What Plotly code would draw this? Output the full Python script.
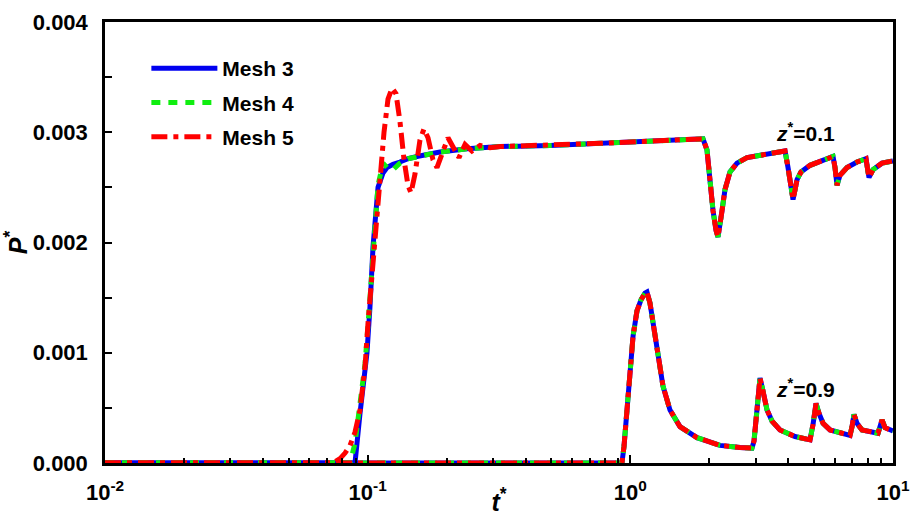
import plotly.graph_objects as go

# ---- z* = 0.1 : start-up transient, one array pair per mesh ----
t_rise_m3 = [0.01, 0.0895, 0.0935, 0.0960, 0.0994, 0.1020, 0.1048, 0.1095, 0.1144,
             0.1185, 0.1249, 0.1327, 0.1423, 0.1541, 0.1697, 0.1885, 0.2389]
p_rise_m3 = [0.0, 0.0, 0.00045, 0.00069, 0.00100, 0.00141, 0.00196, 0.00250, 0.00263,
             0.00268, 0.00271, 0.00273, 0.00276, 0.00278, 0.00280, 0.00282, 0.00285]

t_rise_m4 = [0.01, 0.0857, 0.0895, 0.0935, 0.0977, 0.1003, 0.1038, 0.1066, 0.1095,
             0.1144, 0.1185, 0.1249, 0.1327, 0.1423, 0.1541, 0.1697, 0.1885, 0.2389]
p_rise_m4 = [0.0, 0.0, 0.00018, 0.00052, 0.00090, 0.00125, 0.00170, 0.00210, 0.00252,
             0.00272, 0.00268, 0.00266, 0.00272, 0.00276, 0.00278, 0.00280, 0.00282, 0.00285]

t_rise_m5 = [0.01, 0.0738, 0.0785, 0.0820, 0.0857, 0.0895, 0.0935, 0.0977, 0.1003,
             0.1038, 0.1066, 0.1114, 0.1154, 0.1195, 0.1238, 0.1282, 0.1327, 0.1374,
             0.1423, 0.1462, 0.1514, 0.1582, 0.1638, 0.1697, 0.1773, 0.1836, 0.1919,
             0.2022, 0.2132, 0.2227, 0.2348, 0.2495, 0.2678, 0.2924]
p_rise_m5 = [0.0, 0.0, 0.00004, 0.00009, 0.00016, 0.00028, 0.00048, 0.00087, 0.00127,
             0.00170, 0.00196, 0.00260, 0.00300, 0.00330, 0.00340, 0.00335, 0.00310, 0.00276,
             0.00252, 0.00245, 0.00262, 0.00293, 0.00303, 0.00295, 0.00275, 0.00268, 0.00282,
             0.00295, 0.00285, 0.00277, 0.00289, 0.00283, 0.00288, 0.00286]

# ---- z* = 0.1 : plateau and periodic dips (common to all meshes) ----
t_plateau = [0.3191, 0.4944, 0.7664, 1.188, 1.600, 1.891, 1.958, 2.011, 2.064, 2.120,
             2.157, 2.234, 2.293, 2.396, 2.547, 2.781, 3.201, 3.780, 3.881, 3.984,
             4.091, 4.163, 4.312, 4.465, 4.832, 5.608, 5.910, 6.015, 6.120, 6.284,
             6.684, 7.295, 7.894, 8.033, 8.104, 8.390, 9.081, 10.0]
p_plateau = [0.00287, 0.00288, 0.00290, 0.00292, 0.00293, 0.00294, 0.00284, 0.00254, 0.00229, 0.00211,
             0.00205, 0.00229, 0.00248, 0.00264, 0.00272, 0.00277, 0.00280, 0.00283, 0.00283, 0.00268,
             0.00254, 0.00239, 0.00257, 0.00264, 0.00270, 0.00276, 0.00278, 0.00268, 0.00252, 0.00261,
             0.00268, 0.00273, 0.00276, 0.00264, 0.00259, 0.00266, 0.00272, 0.00274]

# ---- z* = 0.9 (all meshes coincide) ----
t_z09 = [0.01, 0.929, 0.946, 0.970, 0.997, 1.024, 1.060, 1.098, 1.137, 1.157, 1.188,
         1.231, 1.274, 1.331, 1.416, 1.545, 1.794, 2.195, 2.615, 2.904, 2.957, 3.036,
         3.117, 3.201, 3.315, 3.463, 3.713, 4.236, 4.832, 4.961, 5.093, 5.229, 5.416,
         5.757, 6.862, 6.984, 7.105, 7.295, 7.621, 8.771, 8.926, 9.081, 9.324, 10.0]
p_z09 = [0.0, 0.0, 0.00015, 0.00048, 0.00080, 0.00115, 0.00138, 0.00148, 0.00154, 0.00155, 0.00145,
         0.00122, 0.00095, 0.00070, 0.00048, 0.00033, 0.00023, 0.00016, 0.00014, 0.000135, 0.00020, 0.00050,
         0.00077, 0.00065, 0.00048, 0.00038, 0.00030, 0.00024, 0.00021, 0.00035, 0.00054, 0.00045, 0.00036,
         0.00030, 0.00025, 0.00033, 0.00044, 0.00036, 0.00030, 0.00027, 0.00032, 0.00039, 0.00032, 0.00029]

meshes = ["Mesh 3", "Mesh 4", "Mesh 5"]
colors = ["#0000f0", "#10ee10", "#ff0000"]
dashes = ["solid", "9px,8px", "16px,6px,5px,6px"]
widths = [5, 5, 5]
rises = [(t_rise_m3, p_rise_m3), (t_rise_m4, p_rise_m4), (t_rise_m5, p_rise_m5)]

fig = go.Figure()
for name, col, dash, w, (tr, pr) in zip(meshes, colors, dashes, widths, rises):
    line = dict(color=col, width=w, dash=dash)
    fig.add_trace(go.Scatter(x=tr + t_plateau, y=pr + p_plateau, mode="lines",
                             name=name, line=line, legendgroup=name))
    fig.add_trace(go.Scatter(x=t_z09, y=p_z09, mode="lines", name=name,
                             line=line, legendgroup=name, showlegend=False))

tick_font = dict(family="Liberation Sans, Arial", size=22, color="black", weight="bold")
label_font = dict(family="Liberation Sans, Arial", size=21, color="black", weight="bold")
title_font = dict(family="Liberation Sans, Arial", size=25, color="black")

x_major = [0.01, 0.1, 1, 10]
x_labels = ["10<sup>-2</sup>", "10<sup>-1</sup>", "10<sup>0</sup>", "10<sup>1</sup>"]
x_minor = [m * d for d in (0.01, 0.1, 1) for m in range(2, 10)]

fig.update_xaxes(type="log", range=[-2, 1], tickmode="array", tickvals=x_major,
                 ticktext=x_labels, ticks="inside", ticklen=8, tickwidth=2, tickcolor="black",
                 minor=dict(tickmode="array", tickvals=x_minor, ticks="inside", ticklen=5,
                            tickwidth=2, tickcolor="black", showgrid=False),
                 showline=True, linewidth=2.5, linecolor="black", mirror=True,
                 showgrid=False, zeroline=False, tickfont=tick_font, automargin=False,
                 ticklabelstandoff=8, ticklabeloverflow="allow",
                 title=dict(text="<b><i>t</i></b><sup><b>*</b></sup>", font=title_font,
                            standoff=5))
fig.update_yaxes(range=[0, 0.004], tickmode="linear", tick0=0, dtick=0.001,
                 tickformat=".3f", ticks="inside", ticklen=7, tickwidth=2, tickcolor="black",
                 minor=dict(dtick=0.0005, ticks="inside", ticklen=7, tickwidth=2,
                            tickcolor="black", showgrid=False),
                 showline=True, linewidth=2.5, linecolor="black", mirror=True,
                 showgrid=False, zeroline=False, tickfont=tick_font, ticklabelstandoff=10,
                 automargin=False,
                 title=dict(text="<b><i>P</i></b><sup><b>*</b></sup>", font=title_font,
                            standoff=2))

fig.add_annotation(x=0.665, y=0.0030, xref="x", yref="y", showarrow=False,
                   text="<b><i>z</i><sup>*</sup>=0.1</b>", font=label_font)
fig.add_annotation(x=0.665, y=0.00068, xref="x", yref="y", showarrow=False,
                   text="<b><i>z</i><sup>*</sup>=0.9</b>", font=label_font)

fig.update_layout(
    width=910, height=516,
    margin=dict(l=105, r=17, t=22, b=53),
    paper_bgcolor="white", plot_bgcolor="white",
    legend=dict(x=0.0525, y=0.941, xanchor="left", yanchor="top", bgcolor="rgba(0,0,0,0)",
                font=label_font, itemwidth=66, tracegroupgap=4),
)

fig.write_html("out.html")
